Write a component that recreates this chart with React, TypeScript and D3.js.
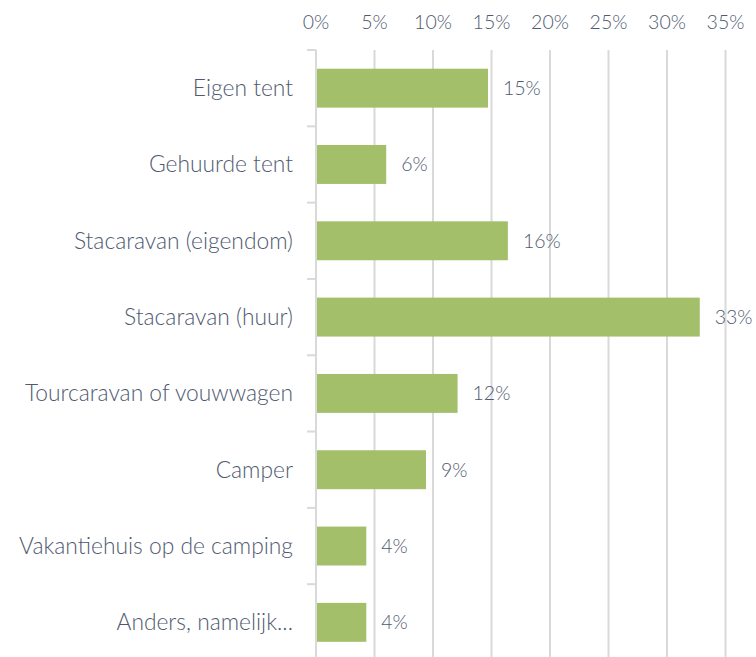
import { useEffect, useRef } from "react";
import * as d3 from "d3";

const categories = [
  "Eigen tent",
  "Gehuurde tent",
  "Stacaravan (eigendom)",
  "Stacaravan (huur)",
  "Tourcaravan of vouwwagen",
  "Camper",
  "Vakantiehuis op de camping",
  "Anders, namelijk...",
];
const values = [14.7, 6.0, 16.4, 32.8, 12.1, 9.4, 4.3, 4.3];
const valueLabels = ["15%", "6%", "16%", "33%", "12%", "9%", "4%", "4%"];
const xTicks = [0, 5, 10, 15, 20, 25, 30, 35];

const WIDTH = 756;
const HEIGHT = 657;
const TEXT = "#4f5a70";
const GRID = "#d9d9d9";
const BAR = "#a3bf69";
const FONT = "Lato, 'Open Sans', sans-serif";

export default function App() {
  const ref = useRef<SVGSVGElement>(null);

  useEffect(() => {
    if (!ref.current) return;
    const svg = d3.select(ref.current);
    svg.selectAll("*").remove();

    const x = d3.scaleLinear().domain([0, 35]).range([316, 725.5]);
    const y = d3
      .scaleBand<string>()
      .domain(categories)
      .range([50, 660.5])
      .paddingInner(0.49)
      .paddingOuter(0.245);
    const step = y.step();

    // vertical gridlines
    svg
      .append("g")
      .selectAll("line")
      .data(xTicks.slice(1))
      .enter()
      .append("line")
      .attr("x1", (d) => x(d))
      .attr("x2", (d) => x(d))
      .attr("y1", 50)
      .attr("y2", HEIGHT)
      .attr("stroke", GRID)
      .attr("stroke-width", 2);

    // x tick labels on top
    svg
      .append("g")
      .selectAll("text")
      .data(xTicks)
      .enter()
      .append("text")
      .attr("x", (d) => x(d))
      .attr("y", 22)
      .attr("dy", "0.35em")
      .attr("text-anchor", "middle")
      .attr("font-family", FONT)
      .attr("font-weight", 300)
      .attr("font-size", 19.5)
      .attr("fill", TEXT)
      .text((d) => `${d}%`);

    // bars
    svg
      .append("g")
      .selectAll("rect")
      .data(values)
      .enter()
      .append("rect")
      .attr("x", x(0))
      .attr("y", (_, i) => y(categories[i]) ?? 0)
      .attr("width", (d) => x(d) - x(0))
      .attr("height", y.bandwidth())
      .attr("fill", BAR);

    // category axis line and ticks
    const axis = svg.append("g");
    axis
      .append("line")
      .attr("x1", x(0))
      .attr("x2", x(0))
      .attr("y1", 50)
      .attr("y2", HEIGHT)
      .attr("stroke", GRID)
      .attr("stroke-width", 2);
    axis
      .selectAll("line.tick")
      .data(d3.range(categories.length + 1))
      .enter()
      .append("line")
      .attr("class", "tick")
      .attr("x1", x(0) - 9)
      .attr("x2", x(0))
      .attr("y1", (i) => 50 + i * step)
      .attr("y2", (i) => 50 + i * step)
      .attr("stroke", GRID)
      .attr("stroke-width", 2);

    // category labels
    svg
      .append("g")
      .selectAll("text")
      .data(categories)
      .enter()
      .append("text")
      .attr("x", 293)
      .attr("y", (d) => (y(d) ?? 0) + y.bandwidth() / 2)
      .attr("dy", "0.35em")
      .attr("text-anchor", "end")
      .attr("font-family", FONT)
      .attr("font-weight", 300)
      .attr("font-size", 22.8)
      .attr("fill", TEXT)
      .text((d) => d);

    // value labels
    svg
      .append("g")
      .selectAll("text")
      .data(values)
      .enter()
      .append("text")
      .attr("x", (d) => x(d) + 15)
      .attr("y", (_, i) => (y(categories[i]) ?? 0) + y.bandwidth() / 2)
      .attr("dy", "0.35em")
      .attr("font-family", FONT)
      .attr("font-weight", 300)
      .attr("font-size", 19.5)
      .attr("fill", TEXT)
      .text((_, i) => valueLabels[i]);
  }, []);

  return (
    <svg
      ref={ref}
      width={WIDTH}
      height={HEIGHT}
      style={{ position: "absolute", left: 0, top: 0, background: "#fff" }}
    />
  );
}
